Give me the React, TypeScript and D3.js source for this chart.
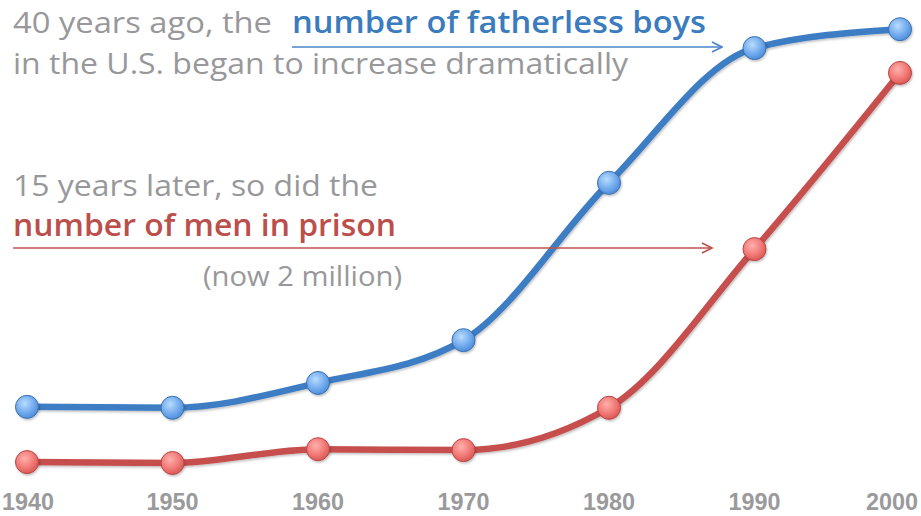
import React from "react";
import * as d3 from "d3";

const years = [1940, 1950, 1960, 1970, 1980, 1990, 2000];
const fatherlessBoys = [15.9, 15.7, 21.1, 30.4, 64.6, 93.9, 98.0];
const menInPrison = [3.9, 3.7, 6.7, 6.5, 15.7, 50.2, 88.5];
const tickLabels = ["1940", "1950", "1960", "1970", "1980", "1990", "2000"];

const W = 921;
const H = 516;

export default function App() {
  const x = d3.scaleLinear().domain([1940, 2000]).range([27, 900]);
  const y = d3.scaleLinear().domain([0, 100]).range([480, 20]);
  const line = d3
    .line<number>()
    .x((_, i) => x(years[i]))
    .y((d) => y(d))
    .curve(d3.curveMonotoneX);

  const series = [
    { key: "blue", values: fatherlessBoys, stroke: "#3d7dc4", grad: "gBlue", ring: "#3a70b0" },
    { key: "red", values: menInPrison, stroke: "#c64f4d", grad: "gRed", ring: "#b84644" },
  ];

  const sans = "'Open Sans', 'Noto Sans', sans-serif";
  const grey = "#98989b";

  return (
    <svg
      width={W}
      height={H}
      style={{ position: "absolute", left: 0, top: 0, background: "#fff" }}
    >
      <defs>
        <radialGradient id="gBlue" cx="40%" cy="35%" r="65%">
          <stop offset="0%" stopColor="#b8dcff" />
          <stop offset="60%" stopColor="#75adee" />
          <stop offset="100%" stopColor="#4f8fdc" />
        </radialGradient>
        <radialGradient id="gRed" cx="40%" cy="35%" r="65%">
          <stop offset="0%" stopColor="#ffb0ad" />
          <stop offset="60%" stopColor="#f27b78" />
          <stop offset="100%" stopColor="#dc5a57" />
        </radialGradient>
        <filter id="shadow" x="-30%" y="-30%" width="160%" height="160%">
          <feDropShadow dx="1" dy="1.5" stdDeviation="1.2" floodColor="#000" floodOpacity="0.25" />
        </filter>
        <marker id="arrowBlue" viewBox="0 0 12 12" refX="11" refY="6" markerWidth="12" markerHeight="12" markerUnits="userSpaceOnUse" orient="auto">
          <path d="M1,1 L11,6 L1,11" fill="none" stroke="#4a86c8" strokeWidth="1.6" />
        </marker>
        <marker id="arrowRed" viewBox="0 0 12 12" refX="11" refY="6" markerWidth="14" markerHeight="12" markerUnits="userSpaceOnUse" orient="auto">
          <path d="M1,1 L11,6 L1,11" fill="none" stroke="#c0504d" strokeWidth="1.6" />
        </marker>
      </defs>

      {series.map((s) => (
        <path
          key={s.key + "line"}
          d={line(s.values) || ""}
          fill="none"
          stroke={s.stroke}
          strokeWidth={6.5}
          strokeLinecap="round"
          filter="url(#shadow)"
        />
      ))}
      {series.map((s) =>
        s.values.map((v, i) => (
          <circle
            key={s.key + i}
            cx={x(years[i])}
            cy={y(v)}
            r={11.5}
            fill={`url(#${s.grad})`}
            stroke={s.ring}
            strokeWidth={1}
            filter="url(#shadow)"
          />
        ))
      )}

      {/* annotations */}
      <text x={13} y={33} fontFamily={sans} fontSize={30} fill={grey} textLength={259} lengthAdjust="spacingAndGlyphs">
        40 years ago, the
      </text>
      <text x={292} y={33} fontFamily={sans} fontSize={30} fill="#3a7cbd" fontWeight={600} textLength={414} lengthAdjust="spacingAndGlyphs">
        number of fatherless boys
      </text>
      <text x={13} y={74} fontFamily={sans} fontSize={30} fill={grey} textLength={615} lengthAdjust="spacingAndGlyphs">
        in the U.S. began to increase dramatically
      </text>
      <line x1={292} y1={47} x2={722} y2={47} stroke="#4a86c8" strokeWidth={1.6} markerEnd="url(#arrowBlue)" />

      <text x={13} y={196} fontFamily={sans} fontSize={30} fill={grey} textLength={365} lengthAdjust="spacingAndGlyphs">
        15 years later, so did the
      </text>
      <text x={13} y={236} fontFamily={sans} fontSize={30} fill="#bb4f4c" fontWeight={600} textLength={383} lengthAdjust="spacingAndGlyphs">
        number of men in prison
      </text>
      <line x1={13} y1={248} x2={712} y2={248} stroke="#c0504d" strokeWidth={1.6} markerEnd="url(#arrowRed)" />
      <text x={203} y={286} fontFamily={sans} fontSize={27} fill={grey} textLength={199} lengthAdjust="spacingAndGlyphs">
        (now 2 million)
      </text>

      {/* x axis labels */}
      {tickLabels.map((t, i) => (
        <text
          key={t}
          x={Math.min(Math.max(x(years[i]), 28), 892)}
          y={510}
          textAnchor="middle"
          fontFamily="'Liberation Sans', Arial, sans-serif"
          fontWeight="bold"
          fontSize={24}
          fill="#9a9a9c"
          textLength={52}
          lengthAdjust="spacingAndGlyphs"
        >
          {t}
        </text>
      ))}
    </svg>
  );
}
